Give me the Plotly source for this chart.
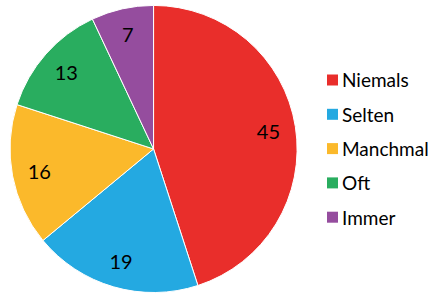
import plotly.graph_objects as go

categories = ["Niemals", "Selten", "Manchmal", "Oft", "Immer"]
values = [45, 19, 16, 13, 7]
colors = ["#E92E2B", "#24A9E1", "#FBB92B", "#29AD5F", "#954D9E"]

dom = dict(x=[0.023, 0.683], y=[0.007, 0.983])

fig = go.Figure()
fig.add_trace(go.Pie(
    labels=categories, values=values, sort=False, direction="clockwise", rotation=0,
    marker=dict(colors=colors, line=dict(color="white", width=1)),
    textinfo="none", domain=dom, showlegend=False,
))
# transparent ring carrying the value labels at ~80% radius
fig.add_trace(go.Pie(
    labels=categories, values=values, sort=False, direction="clockwise", rotation=0,
    hole=0.62,
    marker=dict(colors=["rgba(0,0,0,0)"] * len(values), line=dict(width=0)),
    textinfo="value", textposition="inside", insidetextorientation="horizontal",
    textfont=dict(family="Lato", size=20, color="black"),
    domain=dom, showlegend=False, hoverinfo="skip",
))

# legend
y0, dy = 80, 34.3
for i, (c, col) in enumerate(zip(categories, colors)):
    yc = y0 + dy * i
    fig.add_shape(type="rect", xref="paper", yref="paper",
                  x0=327 / 435, x1=338 / 435,
                  y0=1 - (yc + 5.5) / 295, y1=1 - (yc - 5.5) / 295,
                  fillcolor=col, line=dict(width=0))
    fig.add_annotation(text=c, xref="paper", yref="paper",
                       x=340 / 435, y=1 - yc / 295, xanchor="left", yanchor="middle",
                       showarrow=False, font=dict(family="Lato", size=19, color="black"))

fig.update_layout(
    width=435, height=295,
    margin=dict(l=0, r=0, t=0, b=0),
    paper_bgcolor="white",
    showlegend=False,
)

fig.write_html("out.html", config={"displayModeBar": False},
               post_script="document.body.style.margin='0';")
